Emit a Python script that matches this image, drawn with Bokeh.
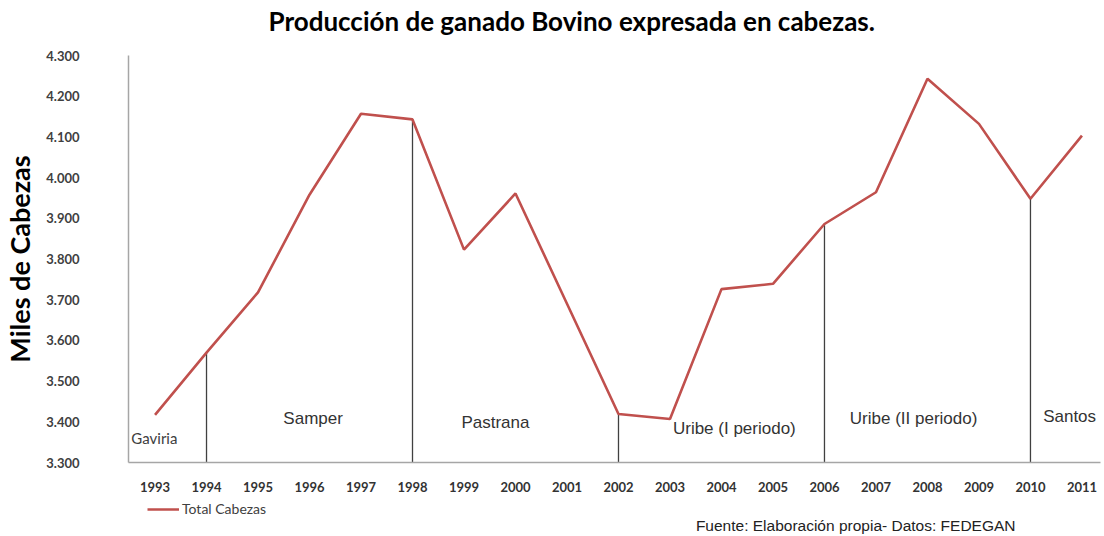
from bokeh.plotting import figure
from bokeh.layouts import column
from bokeh.models import FixedTicker, Range1d, Label, Legend, LegendItem, ColumnDataSource
from bokeh.core.properties import value
from bokeh.embed import file_html
from bokeh.resources import INLINE

# ---- data ----
years = list(range(1993, 2012))
total_cabezas = [3417, 3570, 3718, 3958, 4157, 4143, 3823, 3961, 3690, 3419,
                 3407, 3726, 3739, 3886, 3964, 4243, 4132, 3948, 4103]
y_ticks = [3300, 3400, 3500, 3600, 3700, 3800, 3900, 4000, 4100, 4200, 4300]
y_tick_labels = ["3.300", "3.400", "3.500", "3.600", "3.700", "3.800",
                 "3.900", "4.000", "4.100", "4.200", "4.300"]
period_breaks = [1994, 1998, 2002, 2006, 2010]
period_names = ["Samper", "Pastrana", "Uribe (I periodo)", "Uribe (II periodo)", "Santos"]
first_period = "Gaviria"

title_text = "Producción de ganado Bovino expresada en cabezas."
y_title = "Miles de Cabezas"
series_name = "Total Cabezas"
source_text = "Fuente: Elaboración propia- Datos: FEDEGAN"

# ---- layout (annotation placement) ----
period_label_x = [1996.07, 1999.61, 2004.25, 2007.73, 2010.76]
period_label_y = [3408, 3398, 3384, 3408, 3413]

LINE_COLOR = "#c0504d"

# ---- header strip: title (frame aligned with main plot, pixel coordinates) ----
h = figure(width=1104, height=47, x_range=Range1d(128, 1100), y_range=Range1d(0, 47),
           x_axis_type=None, y_axis_type=None,
           output_backend="svg", toolbar_location=None, min_border=0)
h.outline_line_color = None
h.grid.visible = False
h.add_layout(Label(x=268, y=27, text=title_text, text_align="left",
                   text_baseline="middle", text_font="Lato", text_font_style="bold",
                   text_font_size="26px", text_color="#000000"))

# ---- main chart ----
p = figure(width=1104, height=451,
           x_range=Range1d(1992.485, 2011.36), y_range=Range1d(3300, 4300),
           output_backend="svg", toolbar_location=None,
           min_border_left=128, min_border_right=4,
           min_border_top=8, min_border_bottom=36)
p.outline_line_color = None
p.grid.visible = False
p.background_fill_color = "white"

ax = p.xaxis[0]
ax.ticker = FixedTicker(ticks=years)
ax.axis_line_color = "#a6a6a6"
ax.axis_line_width = 1.5
ax.major_tick_line_color = None
ax.minor_tick_line_color = None
ax.major_label_standoff = 13
ax.major_label_text_font = "Lato"
ax.major_label_text_font_style = "bold"
ax.major_label_text_font_size = "13px"
ax.major_label_text_color = "#333333"

ay = p.yaxis[0]
ay.ticker = FixedTicker(ticks=y_ticks)
ay.major_label_overrides = {t: s for t, s in zip(y_ticks, y_tick_labels)}
ay.axis_line_color = "#a6a6a6"
ay.axis_line_width = 1.5
ay.major_tick_line_color = None
ay.minor_tick_line_color = None
ay.major_label_standoff = 43
ay.major_label_text_font = "Lato"
ay.major_label_text_font_style = "bold"
ay.major_label_text_font_size = "13px"
ay.major_label_text_color = "#404040"
ay.axis_label = y_title
ay.axis_label_text_font = "Lato"
ay.axis_label_text_font_style = "bold"
ay.axis_label_text_font_size = "27px"
ay.axis_label_text_color = "#000000"
ay.axis_label_standoff = 7

# period separators
idx = {y: i for i, y in enumerate(years)}
p.segment(x0=period_breaks, y0=[y_ticks[0]] * len(period_breaks),
          x1=period_breaks, y1=[total_cabezas[idx[b]] for b in period_breaks],
          line_color="#404040", line_width=1.3)

# main series
line_r = p.line(years, total_cabezas, line_color=LINE_COLOR, line_width=2.6)

# period labels
src = ColumnDataSource(dict(x=period_label_x, y=period_label_y, t=period_names))
p.text(x="x", y="y", text="t", source=src, text_align="center", text_baseline="middle",
       text_font=value("Liberation Sans"), text_font_size="17px", text_color="#333333")
p.add_layout(Label(x=1992.54, y=3360, text=first_period, text_align="left",
                   text_baseline="middle", text_font="Lato", text_font_size="15px",
                   text_color="#404040"))

# ---- footer strip: legend + source note (frame aligned with main plot) ----
f = figure(width=1104, height=38, x_range=Range1d(128, 1100), y_range=Range1d(0, 38),
           x_axis_type=None, y_axis_type=None,
           output_backend="svg", toolbar_location=None, min_border=0)
f.outline_line_color = None
f.grid.visible = False
# same series drawn out of view, only to feed the legend swatch
legend_r = f.line(x=years, y=total_cabezas, line_color=LINE_COLOR, line_width=2.6)
legend = Legend(items=[LegendItem(label=series_name, renderers=[legend_r])],
                location=(19, 19), orientation="horizontal",
                border_line_color=None, background_fill_alpha=0,
                padding=0, margin=0, spacing=0,
                glyph_width=32, glyph_height=16, label_height=16,
                label_standoff=3, label_text_font="Lato",
                label_text_font_size="14px", label_text_color="#404040")
f.add_layout(legend)
f.add_layout(Label(x=1015, y=11, text=source_text, text_align="right",
                   text_baseline="middle", text_font="Liberation Sans",
                   text_font_size="15.5px", text_color="#222222"))

open("out.html", "w").write(file_html(column(h, p, f), INLINE))
